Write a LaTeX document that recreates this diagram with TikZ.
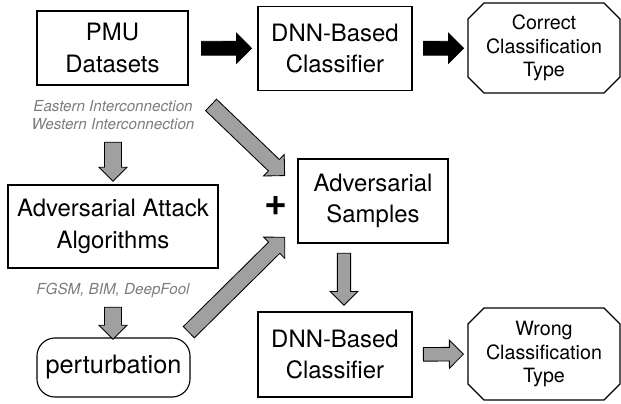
\documentclass[tikz,border=0pt]{standalone}
\usepackage{fontspec}
\setmainfont{TeX Gyre Heros}
\usepackage{xcolor}
\usetikzlibrary{shapes,arrows,positioning}

\definecolor{arrowgray}{RGB}{160,160,160}
\definecolor{notegray}{RGB}{125,125,125}

\tikzset{
  box/.style={draw, line width=0.8pt, align=center, inner sep=2pt,
    font=\fontsize{17}{22.5}\selectfont},
  result/.style={draw, line width=0.8pt, chamfered rectangle,
    chamfered rectangle xsep=0.2cm, chamfered rectangle ysep=0.2cm,
    align=center, inner sep=0pt, minimum width=3.8cm,
    font=\fontsize{14}{16.7}\selectfont},
  note/.style={text=notegray, align=center, font=\fontsize{10.8}{12.8}\selectfont\itshape},
  % shaft = 2*inner ysep, head = shaft + 2*head extend
  blockarrow/.style={single arrow, draw=black, line width=0.6pt, sloped, allow upside down,
    inner xsep=0pt, minimum width=0pt, single arrow tip angle=90},
  darkarrow/.style={blockarrow, fill=black, inner ysep=0.1625cm, single arrow head extend=0.2cm},
  lightarrow/.style={blockarrow, fill=arrowgray, inner ysep=0.2cm, single arrow head extend=0.1375cm},
}

\begin{document}
\begin{tikzpicture}[x=0.025cm, y=-0.025cm]
    \useasboundingbox (0,0) rectangle (621,403);

    % upper row: clean data path
    \node[box, minimum width=3.775cm, minimum height=1.85cm] (pmu) at (112.5,48) {PMU\\Datasets};
    \node[box, minimum width=3.85cm, minimum height=2.1cm] (dnnA) at (335,48.5) {DNN-Based\\Classifier};
    \node[result, minimum height=2.25cm] (correct) at (544,48) {Correct\\Classification\\Type};

    \node[note] (grids) at (113,115) {Eastern Interconnection\\Western Interconnection};

    % attack generation
    \node[box, minimum width=5.25cm, minimum height=2.075cm] (attack) at (113,226.5) {Adversarial Attack\\Algorithms};
    \node[note] (methods) at (113,290) {FGSM, BIM, DeepFool};
    \node[box, rounded corners=0.45cm, minimum width=3.825cm, minimum height=1.475cm,
      font=\fontsize{18}{22}\selectfont] (perturb) at (113.5,367.5) {perturbation};

    \node[font=\fontsize{28}{28}\selectfont\bfseries] (plus) at (276,206) {+};
    \node[box, minimum width=3.75cm, minimum height=2.1cm] (adv) at (373,201) {Adversarial\\Samples};

    % lower row: attacked data path
    \node[box, minimum width=3.85cm, minimum height=2.125cm] (dnnB) at (335,354.5) {DNN-Based\\Classifier};
    \node[result, minimum height=2.3cm] (wrong) at (544,354) {Wrong\\Classification\\Type};

    % arrow ends
    \coordinate (gridsOut) at (113,138);
    \coordinate (attackIn) at (113,177);
    \coordinate (methodsOut) at (113,303);
    \coordinate (perturbIn) at (113,335);
    \coordinate (pmuOut) at (208,102);
    \coordinate (advInA) at (282,173);
    \coordinate (perturbOut) at (186,335);
    \coordinate (advInB) at (282,240);
    \coordinate (advOut) at (344,250);
    \coordinate (dnnBIn) at (344,302);

    % block arrows
    \path (pmu) -- node[darkarrow, minimum height=1.25cm] {} (dnnA);
    \path (dnnA) -- node[darkarrow, minimum height=1cm] {} (correct);
    \path (gridsOut) -- node[lightarrow, minimum height=0.975cm] {} (attackIn);
    \path (methodsOut) -- node[lightarrow, minimum height=0.8cm] {} (perturbIn);
    \path (pmuOut) -- node[lightarrow, inner ysep=0.1875cm, single arrow head extend=0.175cm,
      minimum height=2.55cm] {} (advInA);
    \path (perturbOut) -- node[lightarrow, inner ysep=0.1875cm, single arrow head extend=0.175cm,
      minimum height=3.375cm] {} (advInB);
    \path (advOut) -- node[lightarrow, inner ysep=0.155cm, single arrow head extend=0.18cm,
      minimum height=1.3cm] {} (dnnBIn);
    \path (dnnB) -- node[lightarrow, inner ysep=0.16cm, single arrow head extend=0.18cm,
      minimum height=1cm] {} (wrong);
\end{tikzpicture}
\end{document}
